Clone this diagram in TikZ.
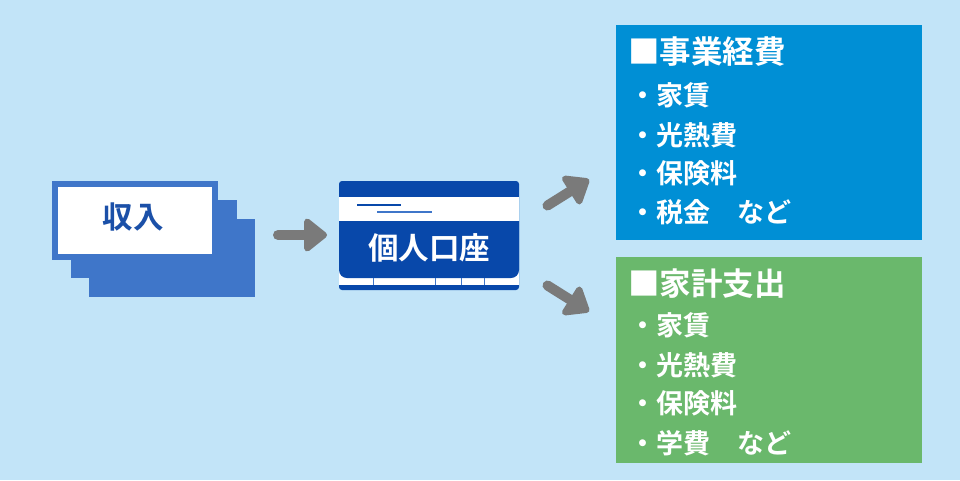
\documentclass[tikz,border=0pt]{standalone}
\usepackage{fontspec}
\setmainfont{Noto Sans CJK JP}[BoldFont={Noto Sans CJK JP Bold}]
\usetikzlibrary{arrows.meta}
\definecolor{bg}{HTML}{C2E4F8}
\definecolor{bizblue}{HTML}{008FD5}
\definecolor{homegreen}{HTML}{6AB86C}
\definecolor{cardblue}{HTML}{3F76C9}
\definecolor{acctblue}{HTML}{0848AA}
\definecolor{txtblue}{HTML}{1B50A8}
\definecolor{arrowgray}{HTML}{7A7A7A}
\tikzset{
  plain/.style={inner sep=0pt, outer sep=0pt},
  stackcard/.style={plain, fill=cardblue, anchor=north west, minimum width=166pt, minimum height=78pt},
  fatarrow/.style={draw=arrowgray, line width=10pt, line cap=round,
    -{Triangle[length=25pt, width=38pt, round]}},
  titletext/.style={plain, anchor=west, text=white, font=\fontsize{31.5}{36}\selectfont\bfseries},
  itemtext/.style={plain, anchor=west, text=white, font=\fontsize{27}{32}\selectfont\bfseries},
  boxfill/.style={plain, anchor=north west},
}
\begin{document}
\begin{tikzpicture}[x=1pt,y=-1pt]
\fill[bg] (0,0) rectangle (960,480);
\useasboundingbox (0,0) rectangle (960,480);

% income card stack
\node[stackcard] (card3) at (89,219) {};
\node[stackcard] (card2) at (71,200) {};
\node[plain, draw=cardblue, line width=6pt, fill=white, minimum width=160pt, minimum height=73pt] (card1) at (135,220.5) {};
\node[plain, text=txtblue, font=\fontsize{30.5}{34}\selectfont\bfseries] (income) at (133,217) {収入};

% bank card
\node[plain, fill=acctblue, rounded corners=3pt, anchor=north west, minimum width=180pt, minimum height=109pt] (acct) at (339,181) {};
\fill[white] (339,197) rectangle (519,222);
\fill[white] (339,268) rectangle (519,285);
\fill[acctblue] (339,221) -- (519,221) {[rounded corners=8pt] -- (519,278) -- (339,278)} -- cycle;
\foreach \xx in {373,435,461,484} \draw[cardblue, line width=1pt] (\xx,278) -- (\xx,285);
\draw[acctblue, line width=1.2pt] (357,205) -- (401,205);
\draw[cardblue, line width=1.2pt] (377,212) -- (432,212);
\node[plain, text=white, font=\fontsize{30.5}{34}\selectfont\bfseries] (accttext) at (429,248) {個人口座};

% destination boxes
\node[boxfill, fill=bizblue, minimum width=306pt, minimum height=215pt] (biz) at (616,25) {};
\node[boxfill, fill=homegreen, minimum width=306pt, minimum height=206pt] (home) at (616,257) {};

\node[titletext] (bizt) at (628,52) {■事業経費};
\node[itemtext] (biz1) at (629.5,95) {・家賃};
\node[itemtext] (biz2) at (629.5,135) {・光熱費};
\node[itemtext] (biz3) at (629.5,173) {・保険料};
\node[itemtext] (biz4) at (629.5,212) {・税金　など};

\node[titletext] (homet) at (628,284) {■家計支出};
\node[itemtext] (home1) at (629.5,325) {・家賃};
\node[itemtext] (home2) at (629.5,365) {・光熱費};
\node[itemtext] (home3) at (629.5,403) {・保険料};
\node[itemtext] (home4) at (629.5,443) {・学費　など};

% arrows
\coordinate (a1s) at (278,235);
\coordinate (a1e) at (327,235);
\coordinate (a2s) at (547.5,205.5);
\coordinate (a2e) at (589,179.5);
\coordinate (a3s) at (547.5,285.5);
\coordinate (a3e) at (589,311.5);
\draw[fatarrow] (a1s) -- (a1e);
\draw[fatarrow] (a2s) -- (a2e);
\draw[fatarrow] (a3s) -- (a3e);
\end{tikzpicture}
\end{document}
